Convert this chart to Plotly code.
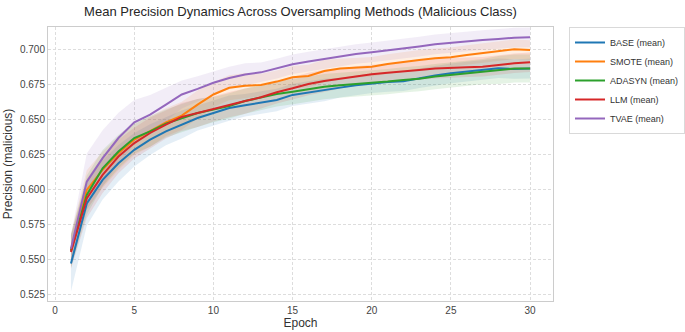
import plotly.graph_objects as go

epochs = list(range(1, 31))

base_mean = [0.5474, 0.5904, 0.6072, 0.6191, 0.6287, 0.6359, 0.6419, 0.6467, 0.6514, 0.6550,
             0.6585, 0.6605, 0.6624, 0.6643, 0.6679, 0.6698, 0.6714, 0.6731, 0.6748, 0.6762,
             0.6771, 0.6776, 0.6798, 0.6817, 0.6833, 0.6845, 0.6857, 0.6869, 0.6864, 0.6867]
smote_mean = [0.5569, 0.6000, 0.6144, 0.6263, 0.6359, 0.6419, 0.6483, 0.6531, 0.6610, 0.6682,
              0.6730, 0.6745, 0.6750, 0.6774, 0.6805, 0.6814, 0.6850, 0.6867, 0.6874, 0.6880,
              0.6900, 0.6917, 0.6929, 0.6940, 0.6948, 0.6964, 0.6976, 0.6988, 0.7005, 0.7000]
adasyn_mean = [0.5565, 0.5964, 0.6155, 0.6275, 0.6371, 0.6419, 0.6474, 0.6514, 0.6550, 0.6574,
               0.6600, 0.6635, 0.6662, 0.6686, 0.6702, 0.6719, 0.6738, 0.6748, 0.6755, 0.6762,
               0.6774, 0.6786, 0.6795, 0.6810, 0.6821, 0.6833, 0.6845, 0.6857, 0.6867, 0.6867]
llm_mean = [0.5557, 0.5940, 0.6108, 0.6239, 0.6335, 0.6407, 0.6467, 0.6522, 0.6550, 0.6579,
            0.6610, 0.6635, 0.6662, 0.6698, 0.6726, 0.6757, 0.6779, 0.6795, 0.6814, 0.6826,
            0.6838, 0.6845, 0.6857, 0.6867, 0.6874, 0.6876, 0.6880, 0.6893, 0.6905, 0.6912]
tvae_mean = [0.5581, 0.6060, 0.6227, 0.6371, 0.6483, 0.6538, 0.6610, 0.6682, 0.6722, 0.6766,
             0.6800, 0.6825, 0.6840, 0.6867, 0.6898, 0.6917, 0.6936, 0.6955, 0.6971, 0.6983,
             0.6995, 0.7007, 0.7024, 0.7040, 0.7052, 0.7064, 0.7071, 0.7079, 0.7088, 0.7090]

base_std = [0.020, 0.016, 0.014, 0.013, 0.012, 0.011, 0.010, 0.010, 0.009, 0.009,
            0.009, 0.008, 0.008, 0.008, 0.008, 0.008, 0.008, 0.007, 0.007, 0.007,
            0.007, 0.007, 0.007, 0.007, 0.007, 0.007, 0.007, 0.007, 0.007, 0.007]
smote_std = [0.012, 0.014, 0.013, 0.012, 0.011, 0.011, 0.010, 0.010, 0.010, 0.009,
             0.009, 0.009, 0.008, 0.008, 0.008, 0.008, 0.008, 0.007, 0.007, 0.007,
             0.007, 0.007, 0.007, 0.007, 0.007, 0.007, 0.007, 0.007, 0.007, 0.007]
adasyn_std = [0.012, 0.014, 0.013, 0.012, 0.011, 0.011, 0.010, 0.010, 0.010, 0.009,
              0.009, 0.009, 0.009, 0.009, 0.009, 0.009, 0.009, 0.009, 0.009, 0.009,
              0.009, 0.009, 0.009, 0.009, 0.009, 0.009, 0.009, 0.010, 0.010, 0.010]
llm_std = [0.012, 0.014, 0.013, 0.012, 0.011, 0.011, 0.010, 0.010, 0.010, 0.009,
           0.009, 0.009, 0.008, 0.008, 0.008, 0.008, 0.008, 0.007, 0.007, 0.007,
           0.007, 0.007, 0.007, 0.007, 0.007, 0.007, 0.007, 0.007, 0.007, 0.007]
tvae_std = [0.010, 0.020, 0.020, 0.018, 0.016, 0.014, 0.012, 0.010, 0.009, 0.008,
            0.008, 0.008, 0.007, 0.007, 0.007, 0.007, 0.007, 0.007, 0.007, 0.007,
            0.007, 0.007, 0.007, 0.007, 0.007, 0.007, 0.007, 0.007, 0.007, 0.007]

series_names = ["BASE", "SMOTE", "ADASYN", "LLM", "TVAE"]
series_means = [base_mean, smote_mean, adasyn_mean, llm_mean, tvae_mean]
series_stds = [base_std, smote_std, adasyn_std, llm_std, tvae_std]
colors = ["#1f77b4", "#ff7f0e", "#2ca02c", "#d62728", "#9467bd"]
y_ticks = [0.525, 0.550, 0.575, 0.600, 0.625, 0.650, 0.675, 0.700]
x_ticks = [0, 5, 10, 15, 20, 25, 30]


def rgba(hex_color, a):
    h = hex_color.lstrip("#")
    r, g, b = int(h[0:2], 16), int(h[2:4], 16), int(h[4:6], 16)
    return f"rgba({r},{g},{b},{a})"


fig = go.Figure()
for name, m, s, c in zip(series_names, series_means, series_stds, colors):
    upper = [a + b for a, b in zip(m, s)]
    lower = [a - b for a, b in zip(m, s)]
    fig.add_trace(go.Scatter(x=epochs, y=upper, mode="lines", line=dict(width=0),
                             showlegend=False, hoverinfo="skip"))
    fig.add_trace(go.Scatter(x=epochs, y=lower, mode="lines", line=dict(width=0),
                             fill="tonexty", fillcolor=rgba(c, 0.12),
                             showlegend=False, hoverinfo="skip"))

for name, m, c in zip(series_names, series_means, colors):
    fig.add_trace(go.Scatter(x=epochs, y=m, mode="lines", name=f"{name} (mean)",
                             line=dict(color=c, width=2)))

font_family = "Liberation Sans, Arial, sans-serif"
fig.update_layout(
    width=685, height=332,
    margin=dict(l=48, r=132, t=27, b=31),
    paper_bgcolor="white", plot_bgcolor="white",
    font=dict(family=font_family, color="#333333", size=10),
    title=dict(text="Mean Precision Dynamics Across Oversampling Methods (Malicious Class)",
               x=(48 + 553) / 2 / 685, xanchor="center", y=1 - 11 / 332, yanchor="middle",
               font=dict(size=13, color="#262626")),
    legend=dict(xref="container", yref="container", x=569 / 685, y=1 - 27 / 332,
                xanchor="left", yanchor="top", bgcolor="white",
                bordercolor="#d9d9d9", borderwidth=1, font=dict(size=9, color="#333333"),
                tracegroupgap=0, itemwidth=30, traceorder="normal"),
    showlegend=True,
)
fig.update_xaxes(range=[-0.45, 31.45], tickvals=x_ticks, ticktext=[str(t) for t in x_ticks],
                 showgrid=True, gridcolor="#dddddd", griddash="3px,2px", gridwidth=1,
                 zeroline=False, showline=True, mirror=True, linecolor="#cccccc", linewidth=1,
                 ticks="", tickfont=dict(size=10, color="#444444"), automargin=False,
                 title=dict(text="Epoch", font=dict(size=12, color="#333333"), standoff=2))
fig.update_yaxes(range=[0.5207, 0.7164], tickvals=y_ticks, ticktext=[f"{t:.3f}" for t in y_ticks],
                 showgrid=True, gridcolor="#dddddd", griddash="3px,2px", gridwidth=1,
                 zeroline=False, showline=True, mirror=True, linecolor="#cccccc", linewidth=1,
                 ticks="", tickfont=dict(size=10, color="#444444"), automargin=False,
                 title=dict(text="Precision (malicious)", font=dict(size=12, color="#333333"), standoff=4))

fig.write_html("out.html")
